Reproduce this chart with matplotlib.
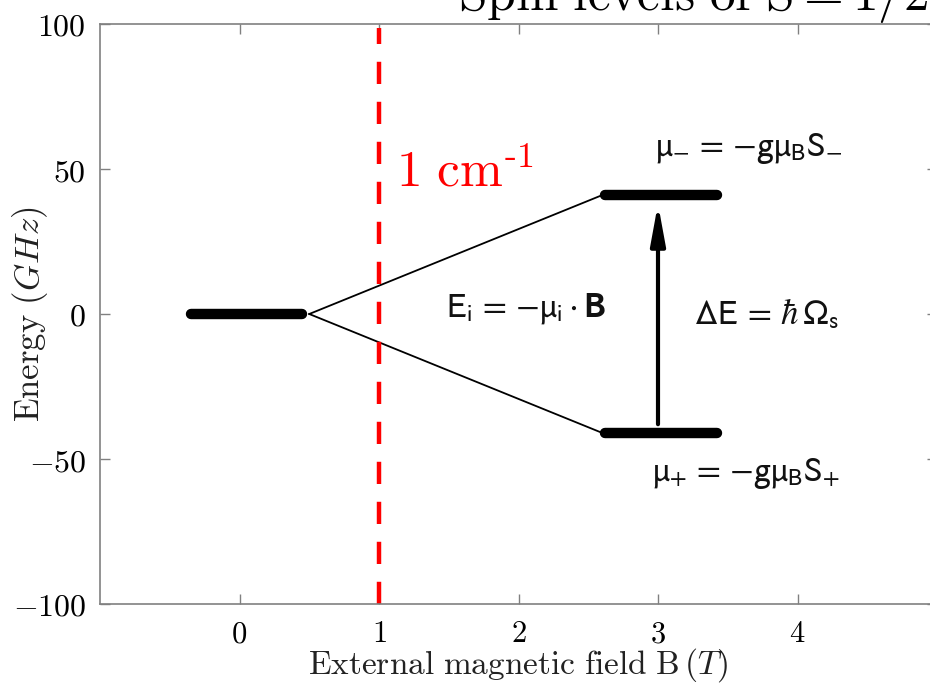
import matplotlib
matplotlib.use("Agg")
import matplotlib.pyplot as plt

plt.rcParams['mathtext.fontset'] = 'cm'
plt.rcParams['font.family'] = ['DejaVu Sans']

# data
zero_level_x = [-0.35, 0.45]
zero_level_y = [0, 0]
split_x = [2.62, 3.42]
upper_E = 41
lower_E = -41
branch_start = (0.5, 0)
branch_end_x = 2.6
arrow_x = 3.0
arrow_y = (-38, 38)
cm1_field = 1.0
xlim = (-1, 5)
ylim = (-100, 100)
xticks = [0, 1, 2, 3, 4]
yticks = [-100, -50, 0, 50, 100]

fig = plt.figure(figsize=(9.3, 6.86), dpi=100)
ax = fig.add_axes([100/930, 82/686, 837/930, 580/686])

# levels
ax.plot(zero_level_x, zero_level_y, color='black', lw=7.5, solid_capstyle='round')
ax.plot(split_x, [upper_E, upper_E], color='black', lw=7.5, solid_capstyle='round')
ax.plot(split_x, [lower_E, lower_E], color='black', lw=7.5, solid_capstyle='round')
ax.plot([branch_start[0], branch_end_x], [branch_start[1], upper_E], color='black', lw=1.3)
ax.plot([branch_start[0], branch_end_x], [branch_start[1], lower_E], color='black', lw=1.3)

ax.annotate('', xy=(arrow_x, arrow_y[1]), xytext=(arrow_x, arrow_y[0]),
            arrowprops=dict(arrowstyle='-|>,head_length=1.2,head_width=0.22', color='black',
                            lw=3, shrinkA=0, shrinkB=0, mutation_scale=20))

ax.plot([cm1_field, cm1_field], [-100, 98.5], color='red', lw=3.2, dashes=(5, 4))

ax.text(1.12, 44, r'$\mathrm{1\ cm}^{\mathrm{\text{-1}}}$', color='red', fontsize=37,
        va='baseline', ha='left')

sans = dict(math_fontfamily='stixsans', fontsize=25, color='#111111')
ax.text(2.98, 57, r'$\mathrm{\mu_{-}}\,=\,{-}\mathrm{g\mu_{B}S_{-}}$', va='center', ha='left', **sans)
ax.text(1.48, 2, r'$\mathrm{E_{i}}\,=\,{-}\mathrm{\mu_{i}}\cdot\mathbf{B}$', va='center', ha='left', **sans)
ax.text(3.26, 0, r'$\mathrm{\Delta E}\,=\,\hbar\,\mathrm{\Omega_{s}}$', va='center', ha='left', **sans)
ax.text(2.96, -55, r'$\mathrm{\mu_{+}}\,=\,{-}\mathrm{g\mu_{B}S_{+}}$', va='center', ha='left', **sans)

ax.set_xlim(*xlim)
ax.set_ylim(*ylim)
ax.set_xticks(xticks)
ax.set_yticks(yticks)
ax.set_xticklabels([rf'${t}$' for t in xticks])
ax.set_yticklabels([rf'${t}$' for t in yticks])
ax.tick_params(direction='in', length=7, width=1, color='#808080', labelsize=23,
               top=True, right=True)
ax.tick_params(axis='x', pad=11, labelsize=22)
ax.tick_params(axis='y', pad=10)
for s in ax.spines.values():
    s.set_color('#808080')
    s.set_linewidth(1.2)

ax.set_xlabel(r'$\mathrm{External\ magnetic\ field\ B}\,(T)$', fontsize=24, color='#222222')
ax.set_ylabel(r'$\mathrm{Energy}\ (GHz)$', fontsize=25, color='#222222')
ax.xaxis.set_label_coords(0.5, -(665 - 604) / 580, transform=ax.transAxes)
ax.yaxis.set_label_coords((30 - 100) / 837, 0.5, transform=ax.transAxes)
ax.xaxis.label.set_va('center')
ax.yaxis.label.set_va('center')

fig.text(458/930, 1 - 10/686, r'$\mathrm{Spin\ levels\ of\ S = 1/2}$', fontsize=37,
         va='baseline', ha='left')

fig.savefig('out.png', dpi=100)
